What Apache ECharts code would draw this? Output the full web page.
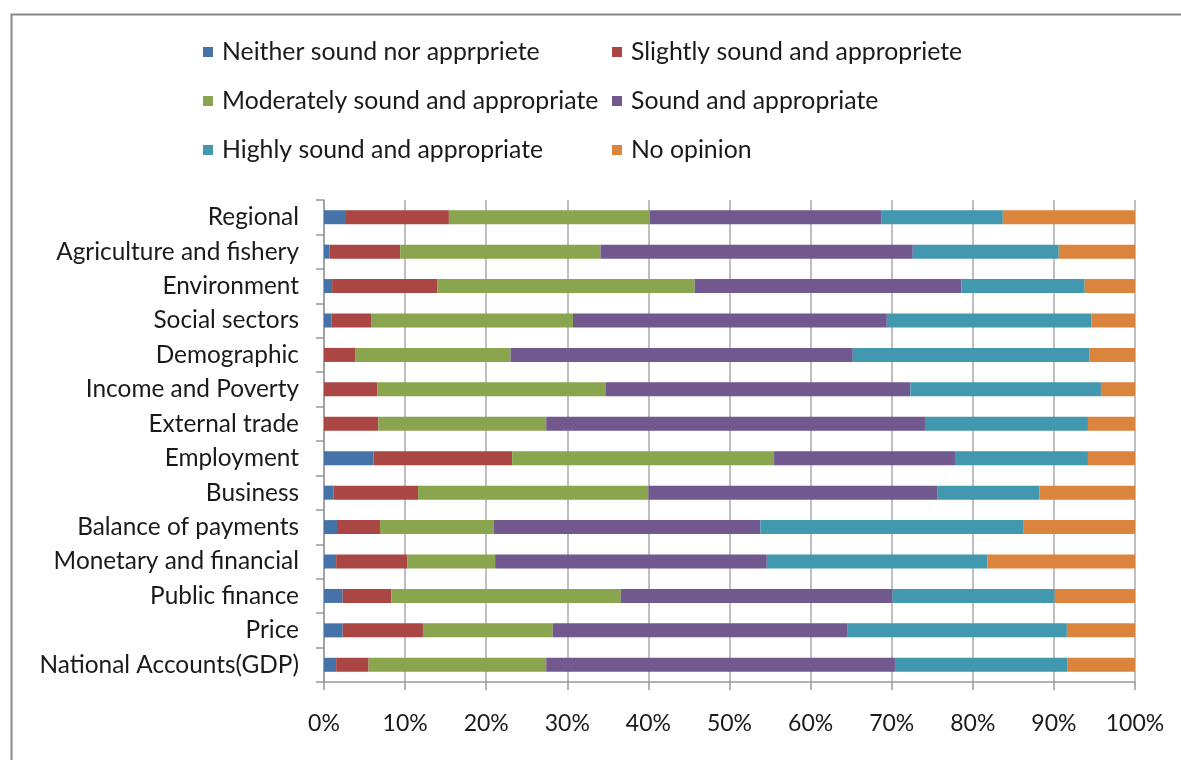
<!DOCTYPE html>
<html>
<head>
<meta charset="utf-8">
<script src="https://cdn.jsdelivr.net/npm/echarts@6/dist/echarts.min.js"></script>
<style>
html,body{margin:0;padding:0;background:#fff;}
#chart{width:1181px;height:760px;}
</style>
</head>
<body>
<div id="chart"></div>
<script>
const categories = ["Regional","Agriculture and fishery","Environment","Social sectors","Demographic","Income and Poverty","External trade","Employment","Business","Balance of payments","Monetary and financial","Public finance","Price","National Accounts(GDP)"];
const seriesNames = ["Neither sound nor apprpriete","Slightly sound and appropriete","Moderately sound and appropriate","Sound and appropriate","Highly sound and appropriate","No opinion"];
const neither    = [2.6, 0.7, 1.0, 0.9, 0.0, 0.0, 0.0, 6.1, 1.2, 1.6, 1.5, 2.3, 2.3, 1.5];
const slightly   = [12.8, 8.7, 13.0, 4.9, 3.9, 6.6, 6.7, 17.1, 10.4, 5.3, 8.8, 6.0, 9.9, 4.0];
const moderately = [24.8, 24.7, 31.7, 24.9, 19.1, 28.1, 20.7, 32.3, 28.4, 14.0, 10.8, 28.3, 16.0, 21.9];
const sound      = [28.5, 38.5, 32.9, 38.7, 42.2, 37.6, 46.7, 22.3, 35.6, 32.9, 33.5, 33.5, 36.3, 43.0];
const highly     = [15.0, 18.0, 15.2, 25.2, 29.2, 23.5, 20.1, 16.4, 12.6, 32.4, 27.2, 20.0, 27.1, 21.3];
const noOpinion  = [16.3, 9.4, 6.2, 5.4, 5.6, 4.2, 5.8, 5.8, 11.8, 13.8, 18.2, 9.9, 8.4, 8.3];
const xTicks = ["0%","10%","20%","30%","40%","50%","60%","70%","80%","90%","100%"];

const values = [neither, slightly, moderately, sound, highly, noOpinion];
const colors = ["#4572A7","#AA4643","#89A54E","#71588F","#4198AF","#DB843D"];
const FONT = "Lato";

const chart = echarts.init(document.getElementById('chart'), null, {renderer:'canvas'});
const legendText = {fontFamily: FONT, fontSize: 24.8, color: '#1a1a1a', lineHeight: 26, padding: [0,0,0,4]};
const option = {
  animation: false,
  backgroundColor: '#fff',
  color: colors,
  graphic: [{
    type: 'rect', left: 9, top: 12,
    shape: {x: 0, y: 0, width: 1300, height: 900},
    style: {fill: 'none', stroke: '#888', lineWidth: 2}, silent: true, z: -1
  }],
  legend: [
    {orient: 'vertical', left: 203, top: 39, padding: 0, itemWidth: 10, itemHeight: 10, itemGap: 23, icon: 'rect',
     data: [seriesNames[0], seriesNames[2], seriesNames[4]], textStyle: legendText, selectedMode: false},
    {orient: 'vertical', left: 612, top: 39, padding: 0, itemWidth: 10, itemHeight: 10, itemGap: 23, icon: 'rect',
     data: [seriesNames[1], seriesNames[3], seriesNames[5]], textStyle: legendText, selectedMode: false}
  ],
  grid: {left: 324, right: 46, top: 200, bottom: 78, containLabel: false},
  xAxis: {
    type: 'value', min: 0, max: 100, interval: 10,
    axisLine: {show: true, lineStyle: {color: '#999', width: 1.5}},
    axisTick: {show: true, length: 8, lineStyle: {color: '#999', width: 1.5}},
    splitLine: {show: true, lineStyle: {color: '#aaa', width: 1.5}},
    axisLabel: {fontFamily: FONT, fontSize: 23, color: '#1a1a1a', margin: 30,
      formatter: function(v){ return xTicks[Math.round(v/10)]; }}
  },
  yAxis: {
    type: 'category', data: categories, inverse: true,
    axisLine: {show: true, lineStyle: {color: '#999', width: 1.5}},
    axisTick: {show: true, length: 8, lineStyle: {color: '#999', width: 1.5}},
    axisLabel: {fontFamily: FONT, fontSize: 24.4, color: '#1a1a1a', margin: 25}
  },
  series: seriesNames.map((n, i) => ({
    name: n, type: 'bar', stack: 'total', barWidth: 14,
    data: values[i],
    itemStyle: {color: colors[i]}
  }))
};
chart.setOption(option);
</script>
</body>
</html>
